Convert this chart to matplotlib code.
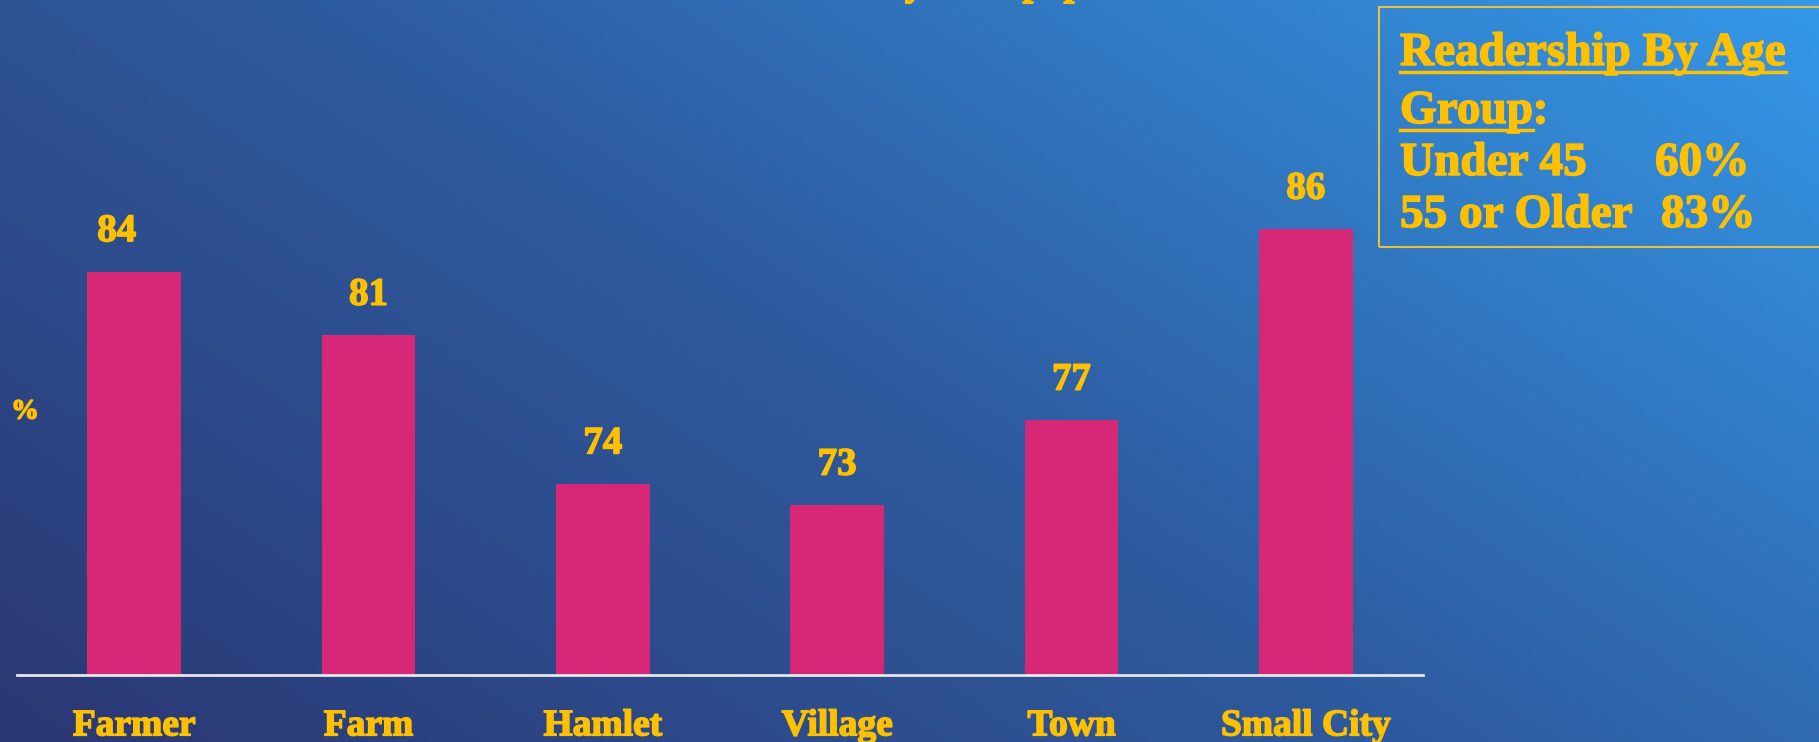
import numpy as np
import matplotlib
matplotlib.use("Agg")
import matplotlib.pyplot as plt
from matplotlib.colors import LinearSegmentedColormap
from matplotlib.patches import Rectangle
import matplotlib.patheffects as pe

categories = ["Farmer", "Farm", "Hamlet", "Village", "Town", "Small City"]
values = [84, 81, 74, 73, 77, 86]
title_text = "Read or Looked Into Local Community Newspaper Last Week"
legend_title = ["Readership By Age", "Group"]
age_groups = ["Under 45", "55 or Older"]
age_values = ["60%", "83%"]

W, H = 1819, 742
DPI = 100
GOLD = "#FFC000"
PINK = "#D62877"
FONT = ["Liberation Serif", "DejaVu Serif"]
EFF = [pe.withStroke(linewidth=1.1, foreground=GOLD)]

fig = plt.figure(figsize=(W / DPI, H / DPI), dpi=DPI)

# background gradient
bg = fig.add_axes([0, 0, 1, 1], zorder=-10)
xx, yy = np.meshgrid(np.linspace(0, 1, 400), np.linspace(0, 1, 200))
t = 0.62 * xx + 0.38 * yy
cmap = LinearSegmentedColormap.from_list("bg", ["#2B3773", "#2E5CA0", "#3498E8"])
bg.imshow(t, cmap=cmap, origin="lower", aspect="auto", extent=[0, 1, 0, 1], vmin=0, vmax=1)
bg.set_axis_off()

# main axes
left = 17 / W
right = 1423 / W
bottom = (H - 675) / H
ax = fig.add_axes([left, bottom, right - left, 1 - bottom])
ax.patch.set_alpha(0)
px_per_unit = 21.23
ymin = 65
ax.set_ylim(ymin, ymin + 675 / px_per_unit)
ax.set_xlim(-0.5, len(categories) - 0.5)

x = np.arange(len(categories))
ax.bar(x, values, width=0.4, bottom=0, color=PINK, zorder=2)
label_dx = {0: -0.075}  # first label sits slightly left of its bar in the reference
for i, (xi, v) in enumerate(zip(x, values)):
    ax.text(xi + label_dx.get(i, 0), v + 40 / px_per_unit, str(v), ha="center", va="center",
            color=GOLD, fontsize=28, fontweight="bold", family=FONT, path_effects=EFF)

for s in ["top", "right", "left"]:
    ax.spines[s].set_visible(False)
ax.spines["bottom"].set_color("#E6E6E6")
ax.spines["bottom"].set_linewidth(2)
ax.set_yticks([])
ax.set_xticks(x)
ax.set_xticklabels(categories)
ax.tick_params(axis="x", length=0, pad=24, labelcolor=GOLD, labelsize=27)
for lbl in ax.get_xticklabels():
    lbl.set_fontweight("bold")
    lbl.set_family(FONT)
    lbl.set_path_effects(EFF)

# % label
fig.text(25 / W, 1 - 412 / H, "%", ha="center", va="center", color=GOLD,
         fontsize=20, fontweight="bold", family=FONT, path_effects=EFF)

# title (mostly cut off at top, as in the reference)
fig.text(786 / W, 1 + 5 / H, title_text, ha="center", va="baseline", color=GOLD,
         fontsize=28, fontweight="bold", family=FONT, path_effects=EFF)

# legend box
box = Rectangle((1379 / W, 1 - 247 / H), (W - 1379 + 20) / W, 240 / H,
                transform=fig.transFigure, fill=False, edgecolor="#E8C040",
                linewidth=1.5)
fig.add_artist(box)
tx = 1400 / W
fs_leg = 34
t1 = fig.text(tx, 1 - 65 / H, legend_title[0], ha="left", va="baseline", color=GOLD,
              fontsize=fs_leg, fontweight="bold", family=FONT, path_effects=EFF)
t2 = fig.text(tx, 1 - 123 / H, legend_title[1], ha="left", va="baseline", color=GOLD,
              fontsize=fs_leg, fontweight="bold", family=FONT, path_effects=EFF)
fig.canvas.draw()
r = fig.canvas.get_renderer()
for tt, yb in [(t1, 65), (t2, 123)]:
    bb = tt.get_window_extent(renderer=r)
    y_line = 1 - (yb + 7) / H
    fig.add_artist(plt.Line2D([bb.x0 / W, bb.x1 / W], [y_line, y_line],
                              transform=fig.transFigure, color=GOLD, linewidth=2.5))
bb2 = t2.get_window_extent(renderer=r)
fig.text(bb2.x1 / W, 1 - 123 / H, ":", ha="left", va="baseline", color=GOLD,
         fontsize=fs_leg, fontweight="bold", family=FONT, path_effects=EFF)

for i, (g, v) in enumerate(zip(age_groups, age_values)):
    yb = 1 - (175 + 52 * i) / H
    fig.text(tx, yb, g, ha="left", va="baseline", color=GOLD,
             fontsize=fs_leg, fontweight="bold", family=FONT, path_effects=EFF)
    fig.text((1655 + 6 * i) / W, yb, v, ha="left", va="baseline", color=GOLD,
             fontsize=fs_leg, fontweight="bold", family=FONT, path_effects=EFF)

fig.savefig("out.png", dpi=DPI)
